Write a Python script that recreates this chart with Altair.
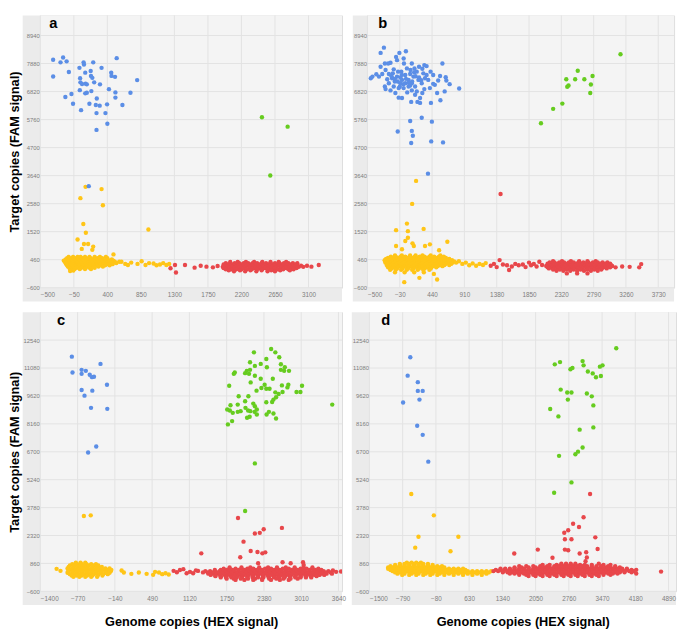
import altair as alt
import pandas as pd

BLUE, GREEN, YELLOW, RED = "#5b8ee6", "#66cc1f", "#ffc517", "#e8474b"

# ---------------- panel a ----------------
a_xticks = [-500, -50, 400, 850, 1300, 1750, 2200, 2650, 3100]
a_yticks = [-600, 460, 1520, 2580, 3640, 4700, 5760, 6820, 7880, 8940]
a_blue = [(-328, 8023), (-328, 7387), (-229, 7925), (-194, 8108), (-147, 7962), (-117, 7558), (-164, 6616),
          (-82, 6726), (-61, 6359), (25, 7717), (34, 7326), (30, 6873), (38, 7167), (47, 6115), (60, 7106),
          (81, 7925), (86, 7840), (103, 7534), (107, 7118), (103, 6751), (124, 6775), (124, 7093), (159, 6359),
          (176, 7595), (180, 7411), (185, 6836), (198, 7338), (210, 7925), (223, 7167), (245, 6311), (258, 6555),
          (254, 6005), (254, 5369), (297, 6286), (301, 7093), (322, 7717), (374, 6005), (396, 6335), (400, 5601),
          (421, 6910), (452, 7534), (456, 7411), (503, 7375), (508, 6788), (508, 6592), (525, 8084), (602, 6311),
          (710, 6775), (800, 7252), (150, 3241)]
a_green = [(2475, 5846), (2820, 5491), (2587, 3644)]
a_yellow_sparse = [(107, 3216), (322, 3131), (38, 2788), (340, 2519), (77, 1810), (111, 1480), (951, 1602),
                   (0, 1223), (86, 1052), (142, 1052), (56, 868), (210, 954), (198, 832), (482, 660),
                   (-57, 50), (-100, 30)]
a_yellow_rows = [(560, [-120, -60, 0, 40, 100, 160, 230, 300, 380]),
                 (515, [-140, -85, -35, 15, 65, 120, 175, 225, 270, 330, 400]),
                 (470, [-160, -110, -60, -10, 40, 90, 140, 190, 240, 290, 340, 400, 460]),
                 (425, [-185, -135, -85, -35, 15, 65, 115, 165, 215, 265, 315, 370, 420, 480]),
                 (380, [-170, -120, -70, -20, 30, 80, 130, 180, 230, 280, 330, 380, 430, 500, 560]),
                 (335, [-160, -110, -60, -10, 40, 90, 140, 190, 240, 290, 340, 395, 450, 520]),
                 (290, [-150, -100, -50, 0, 50, 100, 150, 200, 250, 300, 350, 410, 470]),
                 (245, [-140, -90, -40, 10, 60, 110, 160, 210, 260, 310, 370, 430]),
                 (200, [-130, -80, -30, 20, 70, 120, 170, 220, 280, 340]),
                 (155, [-110, -60, -10, 50, 110, 160, 230]),
                 (110, [-100, -40, 30, 100, 180])]
a_yellow_tail = [(589, 380), (640, 300), (676, 257), (720, 350), (805, 300), (860, 400), (912, 257), (960, 330),
                 (1020, 318), (1060, 250), (1106, 280), (1150, 330), (1192, 257), (1230, 300)]
a_red_sparse = [(1248, 135), (1308, 257), (1321, -24), (1442, 257), (1571, 159), (1653, 232), (1730, 196),
                (1817, 171), (1880, 220), (3080, 230), (3139, 196), (3238, 257)]
a_red_rows = [(370, [2050, 2150, 2260, 2370, 2480, 2590, 2700, 2800]),
              (325, [1990, 2050, 2110, 2170, 2230, 2290, 2350, 2410, 2470, 2530, 2590, 2650, 2710, 2770, 2830, 2890, 2950]),
              (280, [1960, 2020, 2080, 2140, 2200, 2260, 2320, 2380, 2440, 2500, 2560, 2620, 2680, 2740, 2800, 2860, 2920]),
              (235, [1980, 2040, 2100, 2160, 2220, 2280, 2340, 2400, 2460, 2520, 2580, 2640, 2700, 2760, 2820, 2880, 2940, 3000]),
              (190, [1950, 2010, 2070, 2130, 2190, 2250, 2310, 2370, 2430, 2490, 2550, 2610, 2670, 2730, 2790, 2850, 2910, 2970, 3030]),
              (145, [1960, 2030, 2100, 2170, 2240, 2310, 2380, 2450, 2520, 2590, 2660, 2730, 2800, 2870, 2940]),
              (100, [1990, 2060, 2130, 2200, 2270, 2340, 2410, 2480, 2550, 2620, 2690, 2760, 2830, 2900]),
              (60, [2030, 2180, 2320, 2470, 2600, 2720, 2850]),
              (20, [2100, 2250, 2400, 2550, 2650])]

# ---------------- panel b ----------------
b_xticks = [-500, -30, 440, 910, 1380, 1850, 2320, 2790, 3260, 3730]
b_yticks = a_yticks
b_blue = [(-452, 7323), (-428, 7385), (-309, 8281), (-261, 8480), (-309, 7758), (-247, 7883), (-199, 7883),
          (-165, 7907), (-118, 7659), (-84, 8131), (-36, 8281), (-70, 8007), (59, 8343), (26, 8069), (31, 7883),
          (145, 7883), (327, 7820), (360, 7783), (456, 7447), (556, 7410), (590, 7883), (638, 7360), (647, 7236),
          (695, 7099), (834, 6937), (623, 6825), (513, 6763), (456, 7111), (408, 6950), (298, 6763), (265, 6576),
          (193, 6701), (136, 6427), (227, 6427), (265, 6390), (423, 6390), (561, 6489), (2, 6576), (-46, 6589),
          (-94, 6763), (-165, 6863), (-237, 6912), (-247, 7012), (-333, 7385), (-285, 7485), (-189, 7485),
          (-142, 7323), (-103, 7199), (-70, 7385), (-22, 7136), (2, 7261), (50, 7447), (98, 7261), (121, 7485),
          (169, 7385), (217, 7572), (241, 7261), (289, 7136), (337, 7323), (313, 7509), (193, 7012), (98, 7012),
          (26, 6950), (-46, 6950), (-118, 7012), (-213, 7286), (384, 7261), (480, 7074), (528, 7236), (418, 7572),
          (250, 7758), (184, 7696), (126, 7634), (74, 7696), (-8, 7572), (-55, 7572), (-132, 7509), (-189, 7136),
          (-371, 7472), (-237, 7634), (50, 7136), (145, 7136), (217, 6825), (78, 6788), (327, 6912), (298, 7684),
          (360, 7447), (145, 6863), (-100, 7300), (-20, 7350), (60, 7300), (150, 7200), (200, 7400), (-60, 7200),
          (20, 7100), (100, 7150), (250, 7350), (-150, 7400), (0, 7450), (120, 7050), (-30, 7000), (180, 7550),
          (280, 7250), (121, 5706), (-60, 5308), (145, 5332), (160, 5146), (136, 4872), (289, 5830), (437, 5681),
          (427, 4934), (599, 4897), (380, 3715)]
b_green = [(3181, 8231), (2559, 7609), (2392, 7286), (2521, 7286), (2655, 7286), (2774, 7410), (2425, 7049),
           (2406, 7000), (2750, 7086), (2741, 6763), (2335, 6365), (2201, 6166), (2024, 5619)]
b_yellow_sparse = [(207, 3441), (150, 2571), (74, 1824), (-84, 1576), (317, 1625), (88, 1538), (88, 1290),
                   (50, 1165), (155, 1078), (174, 978), (2, 854), (662, 1140), (542, 817), (-84, 978), (337, 978),
                   (408, 1040), (35, -390), (255, -228), (513, -290), (466, -79)]
b_yellow_rows = [(620, [-100, 0, 120, 200, 300, 420, 560]),
                 (575, [-160, -90, -20, 50, 120, 190, 260, 330, 400, 470, 540, 610]),
                 (530, [-200, -130, -60, 10, 80, 150, 220, 290, 360, 430, 500, 570, 640]),
                 (485, [-230, -160, -90, -20, 50, 120, 190, 260, 330, 400, 470, 540, 610, 690]),
                 (440, [-250, -180, -110, -40, 30, 100, 170, 240, 310, 380, 450, 520, 590, 660, 730]),
                 (395, [-220, -150, -80, -10, 60, 130, 200, 270, 340, 410, 480, 550, 620, 700, 760]),
                 (350, [-240, -170, -100, -30, 40, 110, 180, 250, 320, 390, 460, 530, 600, 670, 740, 790]),
                 (305, [-200, -130, -60, 10, 80, 150, 220, 290, 360, 430, 500, 570, 640, 720]),
                 (260, [-220, -150, -80, -10, 60, 130, 200, 270, 340, 410, 480, 550, 620, 690]),
                 (215, [-180, -110, -40, 30, 100, 170, 240, 310, 380, 450, 520, 590]),
                 (170, [-200, -130, -60, 10, 80, 150, 220, 290, 360, 430, 500]),
                 (125, [-150, -70, 10, 90, 170, 250, 330, 420]),
                 (80, [-170, -90, -10, 70, 150, 230, 310, 400]),
                 (-20, [-100, 40, 180, 320])]
b_yellow_tail = [(830, 400), (880, 300), (930, 350), (980, 250), (1030, 320), (1080, 230), (1130, 300),
                 (1180, 260), (1220, 330)]
b_red_sparse = [(1293, 232), (1340, 300), (1380, 180), (1422, 444), (1470, 280), (1530, 250), (1560, 70),
                (1600, 200), (1650, 300), (1700, 250), (1760, 280), (1800, 180), (1850, 350), (1880, 250),
                (1920, 300), (1960, 200), (2000, 380), (2040, 260), (1436, 2944), (3109, 170), (3205, 200),
                (3314, 190), (3453, 170), (3482, 294)]
b_red_rows = [(400, [2200, 2330, 2460, 2580, 2700, 2820]),
              (355, [2150, 2220, 2290, 2360, 2430, 2500, 2570, 2640, 2710, 2780, 2850, 2920, 2990]),
              (310, [2120, 2190, 2260, 2330, 2400, 2470, 2540, 2610, 2680, 2750, 2820, 2890, 2960, 3030]),
              (265, [2130, 2200, 2270, 2340, 2410, 2480, 2550, 2620, 2690, 2760, 2830, 2900, 2970, 3040]),
              (220, [2100, 2170, 2240, 2310, 2380, 2450, 2520, 2590, 2660, 2730, 2800, 2870, 2940, 3010, 3060]),
              (175, [2120, 2190, 2260, 2330, 2400, 2470, 2540, 2610, 2680, 2750, 2820, 2890, 2960, 3030]),
              (130, [2140, 2210, 2280, 2350, 2420, 2490, 2560, 2630, 2700, 2770, 2840, 2910, 2980]),
              (85, [2200, 2300, 2400, 2500, 2600, 2700, 2800, 2900]),
              (40, [2250, 2350, 2450, 2550, 2650, 2750, 2850]),
              (-60, [2400, 2550, 2700])]

# ---------------- panel c ----------------
c_xticks = [-1400, -770, -140, 490, 1120, 1750, 2380, 3010, 3640]
c_yticks = [-600, 860, 2320, 3780, 5240, 6700, 8160, 9620, 11080, 12540]
c_blue = [(-867, 11676), (-383, 11295), (-856, 10846), (-702, 10984), (-702, 10776), (-631, 10932),
          (-565, 10725), (-526, 10604), (-493, 10621), (-702, 9929), (-521, 9895), (-273, 10206), (-653, 9635),
          (-543, 8996), (-268, 8944), (-455, 6973), (-592, 6661)]
c_green = [(2062, 3601), (2227, 6091), (3535, 9168), (2211, 11900), (2502, 12073), (2573, 11900), (2639, 11641),
           (2420, 11555), (2145, 11382), (2326, 11295), (2227, 11191), (2430, 11122), (2667, 11278), (2733, 11122),
           (2667, 10984), (2722, 10932), (2804, 10932), (2090, 10932), (2145, 10984), (2062, 10811), (2128, 10776),
           (1887, 10846), (1871, 10776), (2227, 10673), (2156, 10327), (2326, 10517), (2530, 10517), (2392, 10206),
           (2337, 10033), (2420, 9999), (2255, 9895), (2475, 9999), (2793, 10206), (2777, 10067), (2684, 10171),
           (3024, 10154), (2931, 9826), (2997, 9826), (2695, 9826), (2629, 9722), (2573, 9808), (1793, 10154),
           (1953, 9601), (2117, 9601), (2062, 9341), (2200, 9220), (2420, 9289), (2519, 9306), (2541, 9428),
           (2585, 9549), (1815, 9134), (1937, 9168), (1804, 8858), (1853, 8736), (1937, 8788), (1986, 8823),
           (2068, 8996), (2112, 8858), (2150, 8823), (2222, 8788), (2260, 8650), (2095, 8477), (2139, 8529),
           (2260, 8910), (2425, 8650), (2464, 8788), (2541, 8702), (2585, 8442), (1771, 8131), (1842, 8304),
           (2227, 9082), (1760, 8910)]
c_yellow_sparse = [(-664, 3342), (-548, 3376), (-1125, 576), (-1059, 472)]
c_yellow_rows = [(900, [-800, -720, -640]),
                 (825, [-860, -780, -700, -620, -540, -460]),
                 (750, [-900, -820, -740, -660, -580, -500, -420]),
                 (675, [-920, -840, -760, -680, -600, -520, -440, -360]),
                 (600, [-940, -860, -780, -700, -620, -540, -460, -380, -300, -230]),
                 (525, [-900, -820, -740, -660, -580, -500, -420, -340, -260, -200]),
                 (450, [-930, -850, -770, -690, -610, -530, -450, -370, -290, -210]),
                 (375, [-940, -860, -780, -700, -620, -540, -460, -380, -300, -230]),
                 (300, [-900, -820, -740, -660, -580, -500, -420, -340, -260]),
                 (230, [-870, -790, -700, -610, -520, -430, -350]),
                 (160, [-840, -740, -640, -540, -440])]
c_yellow_tail = [(-26, 489), (12, 385), (139, 316), (265, 385), (397, 316), (507, 264), (540, 420), (606, 385),
                 (661, 300), (716, 350), (771, 280)]
c_red_sparse = [(853, 472), (908, 400), (960, 520), (1018, 560), (1073, 350), (1130, 420), (1183, 350),
                (1230, 500), (1266, 470), (1321, 1388), (3546, 489), (3600, 420), (3684, 440), (1942, 3238),
                (2035, 2000), (2227, 2425), (2310, 2460), (2376, 2650), (2684, 2719), (2156, 1509), (2271, 1457),
                (2354, 1388), (2403, 1440), (1980, 1181), (2282, 870), (2695, 922), (2832, 870), (3041, 922),
                (3052, 783)]
c_red_rows = [(650, [1800, 2000, 2150, 2300, 2450, 2600, 2750, 2900, 3050, 3200]),
              (585, [1700, 1800, 1900, 2000, 2100, 2200, 2300, 2400, 2500, 2600, 2700, 2800, 2900, 3000, 3100, 3200, 3300]),
              (520, [1550, 1650, 1750, 1850, 1950, 2050, 2150, 2250, 2350, 2450, 2550, 2650, 2750, 2850, 2950, 3050, 3150, 3250, 3350]),
              (455, [1390, 1470, 1550, 1630, 1710, 1790, 1870, 1950, 2030, 2110, 2190, 2270, 2350, 2430, 2510, 2590, 2670, 2750, 2830, 2910, 2990, 3070, 3150, 3230, 3310, 3390, 3470]),
              (390, [1350, 1430, 1510, 1590, 1670, 1750, 1830, 1910, 1990, 2070, 2150, 2230, 2310, 2390, 2470, 2550, 2630, 2710, 2790, 2870, 2950, 3030, 3110, 3190, 3270, 3350, 3430, 3510]),
              (325, [1440, 1520, 1600, 1680, 1760, 1840, 1920, 2000, 2080, 2160, 2240, 2320, 2400, 2480, 2560, 2640, 2720, 2800, 2880, 2960, 3040, 3120, 3200, 3280, 3360, 3440, 3530]),
              (260, [1480, 1560, 1640, 1720, 1800, 1880, 1960, 2040, 2120, 2200, 2280, 2360, 2440, 2520, 2600, 2680, 2760, 2840, 2920, 3000, 3080, 3160, 3240, 3320, 3400]),
              (195, [1560, 1650, 1740, 1830, 1920, 2010, 2100, 2190, 2280, 2370, 2460, 2550, 2640, 2730, 2820, 2910, 3000, 3090, 3180, 3270]),
              (130, [1650, 1740, 1830, 1920, 2010, 2100, 2190, 2280, 2370, 2460, 2550, 2640, 2730, 2820, 2910, 3000, 3090, 3180]),
              (65, [1750, 1870, 1990, 2110, 2230, 2350, 2470, 2590, 2710, 2830, 2950]),
              (0, [1900, 2050, 2200, 2350, 2500, 2650, 2800])]

# ---------------- panel d ----------------
d_xticks = [-1500, -790, -80, 630, 1340, 2050, 2760, 3470, 4180, 4890]
d_yticks = c_yticks
d_blue = [(-627, 11644), (-683, 10680), (-466, 10342), (-466, 9885), (-362, 9885), (-431, 9429), (-781, 9276),
          (-480, 8059), (-362, 7585), (-243, 6182)]
d_green = [(3773, 12117), (2460, 11272), (2572, 11390), (3054, 11441), (3075, 11221), (2795, 11018),
           (2837, 11086), (3166, 10900), (3270, 10798), (3424, 11153), (3480, 11221), (3340, 10595),
           (3445, 10663), (2586, 9953), (2725, 9801), (2816, 9801), (3145, 9750), (3250, 9598), (2739, 9429),
           (3284, 9124), (2362, 8938), (2537, 8549), (2991, 7856), (3284, 7974), (3054, 6926), (2956, 6706),
           (2900, 6571), (2551, 6486), (2816, 5099), (2446, 4558)]
d_yellow_sparse = [(-606, 4491), (-124, 3375), (-452, 2259), (400, 2259), (-522, 1684), (232, 1498)]
d_yellow_rows = [(900, [-700, -600, -500, -400]),
                 (840, [-850, -750, -650, -550, -450, -350, -250]),
                 (780, [-950, -850, -750, -650, -550, -450, -350, -250, -150]),
                 (715, [-1050, -950, -850, -750, -650, -550, -450, -350, -250, -150, -50, 50]),
                 (650, [-1100, -1000, -900, -800, -700, -600, -500, -400, -300, -200, -100, 0, 100]),
                 (585, [-1100, -1000, -900, -800, -700, -600, -500, -400, -300, -200, -100, 0, 100, 200, 300, 400, 500]),
                 (520, [-1050, -950, -850, -750, -650, -550, -450, -350, -250, -150, -50, 50, 150, 250, 350, 450, 550]),
                 (455, [-1000, -900, -800, -700, -600, -500, -400, -300, -200, -100, 0, 100, 200, 300, 400, 500, 600, 700, 800, 900, 1000, 1100]),
                 (390, [-950, -850, -750, -650, -550, -450, -350, -250, -150, -50, 50, 150, 250, 350, 450, 550, 650, 750, 850, 950, 1050]),
                 (325, [-900, -750, -600, -450, -300, -150, 0, 200, 400, 600, 800, 1000]),
                 (260, [-800, -650, -500, -350, -200, -50, 100, 300, 500, 700, 900])]
d_red_sparse = [(3214, 4491), (3075, 3273), (2851, 2935), (2746, 2597), (2662, 2462), (2977, 2766), (2676, 2124),
                (2816, 2124), (3326, 2225), (2097, 1583), (1594, 1379), (2676, 1583), (2746, 1549), (2991, 1379),
                (3131, 1447), (3375, 1617), (3145, 1177), (2411, 1160), (3117, 974), (4730, 432)]
d_red_rows = [(850, [2600, 2700, 2800, 2900, 3400]),
              (785, [2200, 2350, 2500, 2600, 2700, 2800, 2900, 3000, 3100, 3250, 3500, 3650]),
              (720, [1700, 1850, 2000, 2150, 2300, 2450, 2550, 2650, 2750, 2850, 2950, 3050, 3150, 3250, 3350, 3450, 3600, 3750]),
              (655, [1600, 1750, 1900, 2050, 2150, 2250, 2350, 2450, 2550, 2650, 2750, 2850, 2950, 3050, 3150, 3250, 3350, 3450, 3550, 3650, 3750, 3850]),
              (590, [1300, 1400, 1500, 1600, 1700, 1800, 1900, 2000, 2100, 2200, 2300, 2400, 2500, 2600, 2700, 2800, 2900, 3000, 3100, 3200, 3300, 3400, 3500, 3600, 3700, 3800, 3900, 4000]),
              (525, [1200, 1300, 1400, 1500, 1600, 1700, 1800, 1900, 2000, 2100, 2200, 2300, 2400, 2500, 2600, 2700, 2800, 2900, 3000, 3100, 3200, 3300, 3400, 3500, 3600, 3700, 3800, 3900, 4000, 4100, 4200]),
              (460, [1150, 1250, 1350, 1450, 1550, 1650, 1750, 1850, 1950, 2050, 2150, 2250, 2350, 2450, 2550, 2650, 2750, 2850, 2950, 3050, 3150, 3250, 3350, 3450, 3550, 3650, 3750, 3850, 3950, 4050, 4150]),
              (395, [1350, 1450, 1550, 1650, 1750, 1850, 1950, 2050, 2150, 2250, 2350, 2450, 2550, 2650, 2750, 2850, 2950, 3050, 3150, 3250, 3350, 3450, 3550, 3650, 3750, 3850, 3950, 4100]),
              (330, [1500, 1600, 1700, 1800, 1900, 2000, 2100, 2200, 2300, 2400, 2500, 2600, 2700, 2800, 2900, 3000, 3100, 3200, 3300, 3400, 3500, 3600, 3700, 3800, 4200]),
              (265, [1700, 1850, 2000, 2150, 2300, 2450, 2600, 2750, 2900, 3050, 3200, 3350, 3500, 3650]),
              (200, [1900, 2050, 2200, 2350, 2500, 2650, 2800, 2950, 3100, 3250, 3400])]

Y_TITLE = "Target copies (FAM signal)"
X_TITLE = "Genome copies (HEX signal)"
FONT = "Liberation Sans"


def rows_to_points(rows):
    return [(x, y) for y, xs in rows for x in xs]


def build(groups):
    recs = []
    for cls, pts in groups:
        for x, y in pts:
            recs.append({"x": x, "y": y, "c": cls})
    return pd.DataFrame(recs)


def panel(df, xdom, ydom, xticks, yticks, W, H, letter, lx, strip, ytitle=None, xtitle=None):
    xaxis = dict(values=xticks, format="d", grid=False, ticks=False, domain=False, labelFontSize=6.5,
                 labelColor="#7d7d7d", labelPadding=4, labelFont=FONT, zindex=1, labelOverlap=False,
                 title=xtitle, titleFont=FONT, titleFontSize=13, titleFontWeight="bold",
                 titleColor="black", titlePadding=14)
    yaxis = dict(values=yticks, format="d", grid=False, ticks=False, domain=False, labelFontSize=6,
                 labelColor="#7d7d7d", labelPadding=1, labelFont=FONT, zindex=1, labelOverlap=False,
                 title=ytitle, titleFont=FONT, titleFontSize=13, titleFontWeight="bold",
                 titleColor="black", titlePadding=2, minExtent=17, maxExtent=17)
    X = alt.X("x:Q", scale=alt.Scale(domain=xdom, nice=False, zero=False), axis=alt.Axis(**xaxis))
    Y = alt.Y("y:Q", scale=alt.Scale(domain=ydom, nice=False, zero=False), axis=alt.Axis(**yaxis))
    one = pd.DataFrame({"k": [0]})
    bg_strip = alt.Chart(one).mark_rect(color="#ebebeb").encode(
        x=alt.value(-strip), x2=alt.value(W), y=alt.value(0), y2=alt.value(H + 14))
    bg_plot = alt.Chart(one).mark_rect(color="#f4f4f4").encode(
        x=alt.value(0), x2=alt.value(W), y=alt.value(0), y2=alt.value(H))
    gx = alt.Chart(pd.DataFrame({"x": xticks})).mark_rule(color="#e2e2e2", strokeWidth=1).encode(x=X)
    gy = alt.Chart(pd.DataFrame({"y": yticks})).mark_rule(color="#e2e2e2", strokeWidth=1).encode(y=Y)
    pts = alt.Chart(df).mark_circle(size=20, opacity=1, clip=True).encode(
        x=X, y=Y,
        color=alt.Color("c:N", scale=alt.Scale(domain=["blue", "green", "yellow", "red"],
                                               range=[BLUE, GREEN, YELLOW, RED]), legend=None))
    txt = alt.Chart(one).mark_text(text=letter, fontSize=15, fontWeight="bold", font=FONT, align="left",
                                   baseline="top", color="black").encode(x=alt.value(lx), y=alt.value(1))
    return alt.layer(bg_strip, bg_plot, gx, gy, pts, txt).properties(width=W, height=H)


df_a = build([("yellow", rows_to_points(a_yellow_rows) + a_yellow_tail + a_yellow_sparse),
              ("red", rows_to_points(a_red_rows) + a_red_sparse),
              ("blue", a_blue), ("green", a_green)])
df_b = build([("yellow", rows_to_points(b_yellow_rows) + b_yellow_tail + b_yellow_sparse),
              ("red", rows_to_points(b_red_rows) + b_red_sparse),
              ("blue", b_blue), ("green", b_green)])
df_c = build([("yellow", rows_to_points(c_yellow_rows) + c_yellow_tail + c_yellow_sparse),
              ("red", rows_to_points(c_red_rows) + c_red_sparse),
              ("blue", c_blue), ("green", c_green)])
df_d = build([("yellow", rows_to_points(d_yellow_rows) + d_yellow_sparse),
              ("red", rows_to_points(d_red_rows) + d_red_sparse),
              ("blue", d_blue), ("green", d_green)])

pa = panel(df_a, [-500, 3550], [-600, 9700], a_xticks, a_yticks, 308, 278, "a", 9, 18, ytitle=Y_TITLE)
pb = panel(df_b, [-500, 3960], [-600, 9700], b_xticks, b_yticks, 313, 278, "b", 11, 15)
pc = panel(df_c, [-1400, 3700], [-600, 14000], c_xticks, c_yticks, 308, 285, "c", 17, 18,
           ytitle=Y_TITLE, xtitle=X_TITLE)
pd_ = panel(df_d, [-1500, 5050], [-600, 14000], d_xticks, d_yticks, 313, 285, "d", 12, 18, xtitle=X_TITLE)

row1 = alt.hconcat(pa, pb, spacing=7)
row2 = alt.hconcat(pc, pd_, spacing=4)
chart = alt.vconcat(row1, row2, spacing=9).properties(
    padding={"left": 0, "top": 0, "right": 0, "bottom": 0}
).configure_view(strokeWidth=0).configure(background="white")

chart.save("out.html", embed_options={"renderer": "svg", "actions": False})
